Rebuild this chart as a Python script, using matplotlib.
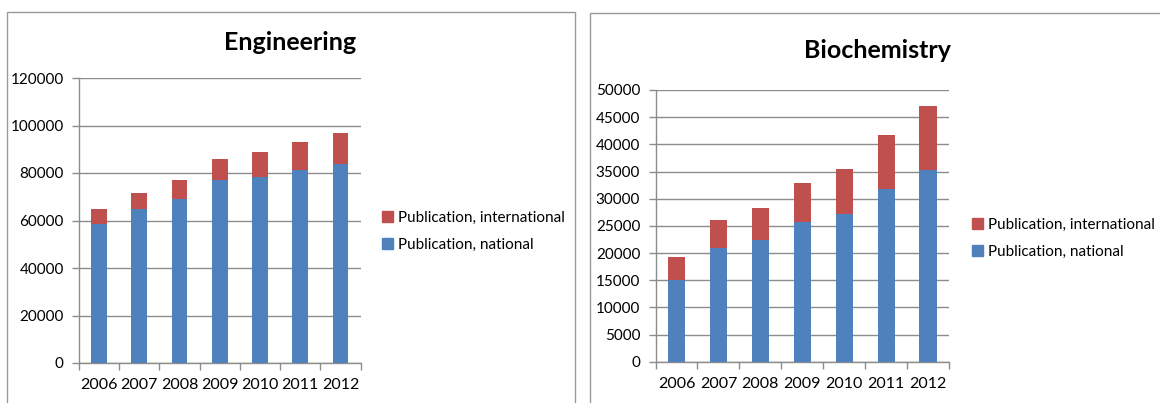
import matplotlib
matplotlib.use("Agg")
import matplotlib.pyplot as plt
from matplotlib.patches import Rectangle, Patch

years = ["2006", "2007", "2008", "2009", "2010", "2011", "2012"]
eng_national = [58500, 65000, 69000, 77000, 78500, 81300, 83800]
eng_total = [65000, 71700, 77000, 86000, 88800, 93200, 96800]
bio_national = [15100, 21000, 22400, 25700, 27100, 31800, 35200]
bio_total = [19300, 26100, 28300, 32800, 35400, 41700, 47000]
eng_international = [t - n for t, n in zip(eng_total, eng_national)]
bio_international = [t - n for t, n in zip(bio_total, bio_national)]

BLUE = "#4F81BD"
RED = "#C0504D"
GRID = "#8c8c8c"
FONT = ["Lato", "DejaVu Sans"]
plt.rcParams['font.family'] = FONT

W, H = 1160, 403
fig = plt.figure(figsize=(W / 100, H / 100), dpi=100)

def fx(px):
    return px / W

def fy(py):
    return (H - py) / H

# chart borders
fig.patches.append(Rectangle((fx(7), fy(410)), fx(575) - fx(7), fy(12) - fy(410),
                             transform=fig.transFigure, fill=False, edgecolor="#9a9a9a", lw=1.0))
fig.patches.append(Rectangle((fx(590), fy(410)), fx(1170) - fx(590), fy(13) - fy(410),
                             transform=fig.transFigure, fill=False, edgecolor="#9a9a9a", lw=1.0))

def panel(rect, nat, intl, ymax, step, title, title_xy, leg_xy, width):
    ax = fig.add_axes(rect)
    x = list(range(len(years)))
    ax.bar(x, nat, width=width, color=BLUE, zorder=3)
    ax.bar(x, intl, bottom=nat, width=width, color=RED, zorder=3)
    ax.set_xlim(-0.5, len(years) - 0.5)
    ax.set_ylim(0, ymax)
    ax.set_yticks(list(range(0, ymax + 1, step)))
    ax.set_yticklabels([str(v) for v in range(0, ymax + 1, step)])
    ax.yaxis.grid(True, color=GRID, lw=1.0, zorder=0)
    ax.set_axisbelow(True)
    for s in ["top", "right"]:
        ax.spines[s].set_visible(False)
    for s in ["left", "bottom"]:
        ax.spines[s].set_color(GRID)
        ax.spines[s].set_linewidth(1.0)
    # category boundary ticks
    ax.set_xticks([i - 0.5 for i in range(len(years) + 1)])
    ax.set_xticklabels([])
    ax.set_xticks(x, minor=True)
    ax.set_xticklabels(years, minor=True)
    ax.tick_params(axis="x", which="major", length=5, color=GRID, width=1.0)
    ax.tick_params(axis="x", which="minor", length=0, pad=11, labelsize=11.5)
    ax.tick_params(axis="y", length=5, color=GRID, width=1.0, pad=6, labelsize=11)
    fig.text(fx(title_xy[0]), fy(title_xy[1]), title, ha="center", va="center",
             fontsize=18, fontweight="bold")
    handles = [Patch(color=RED, label="Publication, international"),
               Patch(color=BLUE, label="Publication, national")]
    fig.legend(handles=handles, loc="center left",
               bbox_to_anchor=(fx(leg_xy[0]), fy(leg_xy[1])), frameon=False,
               fontsize=11, handlelength=0.75, handleheight=0.75, handletextpad=0.3,
               labelspacing=0.85, borderaxespad=0, borderpad=0)
    return ax

panel([fx(79), fy(363), fx(360.6) - fx(79), fy(78) - fy(363)],
      eng_national, eng_international, 120000, 20000, "Engineering",
      (290, 42), (382, 231), 0.39)
panel([fx(655.5), fy(361.7), fx(949) - fx(655.5), fy(90) - fy(361.7)],
      bio_national, bio_international, 50000, 5000, "Biochemistry",
      (878, 50), (972, 238), 0.41)

fig.savefig("out.png", dpi=100)
